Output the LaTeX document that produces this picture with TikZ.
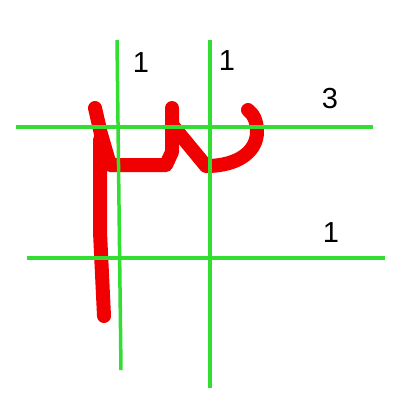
\documentclass[tikz,border=0pt]{standalone}
\usepackage{fontspec}
\setmainfont{Liberation Sans}
\begin{document}
\begin{tikzpicture}[x=1pt,y=-1pt,
  gridline/.style={draw=gridgreen,line width=3.5pt},
  ink/.style={draw=inkred,line width=14pt,line cap=round,line join=round},
  lab/.style={font=\fontsize{29}{29}\selectfont,inner sep=0pt}]
\definecolor{gridgreen}{RGB}{50,222,50}
\definecolor{inkred}{RGB}{240,0,0}
\useasboundingbox[fill=white] (0,0) rectangle (404,392);
% red strokes
\draw[ink] (95,108) -- (101,134) -- (110,165) -- (166,165) -- (172,152) -- (172,108);
\draw[ink] (100,140) -- (100,232) -- (104,316);
\draw[ink] (173,126) -- (206,166) .. controls (240,166) and (257,150) .. (257,132) .. controls (257,120) and (253,114) .. (248,110);
% green grid
\coordinate (v1t) at (117,40); \coordinate (v1b) at (121,370);
\coordinate (v2t) at (210,40); \coordinate (v2b) at (210,388);
\coordinate (h1l) at (16,127); \coordinate (h1r) at (373,127);
\coordinate (h2l) at (27,258); \coordinate (h2r) at (385,258);
\draw[gridline] (v1t) -- (v1b);
\draw[gridline] (v2t) -- (v2b);
\draw[gridline] (h1l) -- (h1r);
\draw[gridline] (h2l) -- (h2r);
% labels
\node[lab] (la) at (141,63) {1};
\node[lab] (lb) at (227,61) {1};
\node[lab] (lc) at (330,99) {3};
\node[lab] (ld) at (331,233) {1};
\end{tikzpicture}
\end{document}
